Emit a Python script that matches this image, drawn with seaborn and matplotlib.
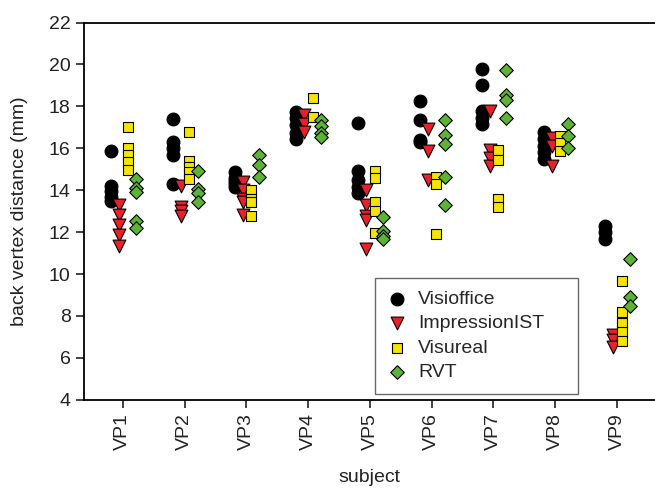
import numpy as np
import pandas as pd

import matplotlib
matplotlib.use("Agg")
import matplotlib.pyplot as plt
import seaborn as sns

sns.set_style("ticks")
plt.rcParams["font.family"] = ["Liberation Sans", "DejaVu Sans"]

# --- data: one list per subject (VP1..VP9) for each method ---
subjects = ["VP1", "VP2", "VP3", "VP4", "VP5", "VP6", "VP7", "VP8", "VP9"]

visioffice = [
    [15.85, 14.2, 13.95, 13.7, 13.5],
    [17.4, 16.3, 16.0, 15.7, 14.3],
    [14.85, 14.6, 14.45, 14.3, 14.15],
    [17.75, 17.45, 17.1, 16.75, 16.45],
    [17.2, 14.9, 14.5, 14.15, 13.85],
    [18.25, 17.35, 16.4, 16.3],
    [19.8, 19.0, 17.8, 17.45, 17.15],
    [16.8, 16.45, 16.1, 15.8, 15.5],
    [12.3, 12.0, 11.65],
]
impression_ist = [
    [13.3, 12.8, 12.35, 11.85, 11.35],
    [14.2, 13.2, 13.0, 12.75],
    [14.4, 14.0, 13.6, 13.45, 12.8],
    [17.6, 17.15, 16.8],
    [14.0, 13.3, 12.75, 12.6, 11.2],
    [16.9, 15.85, 14.5],
    [17.8, 15.9, 15.55, 15.15],
    [16.5, 16.1, 15.15],
    [7.1, 6.85, 6.5],
]
visureal = [
    [17.0, 16.0, 15.7, 15.35, 14.95],
    [16.8, 15.4, 15.1, 14.85, 14.55],
    [14.0, 13.6, 13.45, 12.75],
    [18.4, 17.5],
    [14.9, 14.6, 13.45, 13.0, 11.95],
    [14.65, 14.3, 11.9],
    [15.9, 15.45, 13.6, 13.2],
    [16.6, 16.25, 15.85],
    [9.65, 8.2, 7.65, 7.25, 6.8],
]
rvt = [
    [14.55, 14.1, 13.9, 12.55, 12.2],
    [14.9, 14.05, 13.85, 13.45],
    [15.7, 15.2, 14.65],
    [17.35, 17.05, 16.75, 16.55],
    [12.7, 12.05, 11.8, 11.65],
    [17.35, 16.65, 16.2, 14.65, 13.3],
    [19.75, 18.55, 18.3, 17.45],
    [17.15, 16.6, 16.0],
    [10.7, 8.9, 8.5],
]

methods = ["Visioffice", "ImpressionIST", "Visureal", "RVT"]
series = [visioffice, impression_ist, visureal, rvt]

# styling per method
offsets = [-0.19, -0.06, 0.075, 0.21]
markers = ["o", "v", "s", "D"]
sizes = [85, 85, 58, 48]
colors = ["black", "#e8202a", "#f5e400", "#5cb335"]

rows = []
for m, vals in zip(methods, series):
    for i, s in enumerate(subjects):
        for v in vals[i]:
            rows.append({"method": m, "subject": s, "idx": i + 1, "value": v})
df = pd.DataFrame(rows)

fig = plt.figure(figsize=(6.55, 4.9), dpi=100)
ax = fig.add_axes([0.128, 0.184, 0.872, 0.770])

for m, off, mk, sz, c in zip(methods, offsets, markers, sizes, colors):
    sub = df[df["method"] == m]
    sns.scatterplot(
        x=sub["idx"] + off, y=sub["value"], ax=ax,
        marker=mk, s=sz, color=c, edgecolor="black", linewidth=0.8,
        label=m, zorder=3,
    )

ax.set_xlim(0.368, 9.615)
ax.set_ylim(4, 22)
ax.set_yticks(np.arange(4, 23, 2))
ax.set_xticks(np.arange(1, 10))
ax.set_xticklabels(subjects, rotation=90)
ax.tick_params(axis="both", direction="out", length=6, width=1.2, labelsize=14,
               colors="#222222")
ax.set_xlabel("subject", fontsize=14, color="#222222")
ax.set_ylabel("back vertex distance (mm)", fontsize=14, color="#222222")
ax.yaxis.set_label_coords(-0.112, 0.5)
ax.xaxis.set_label_coords(0.5, -0.207)
ax.xaxis.label.set_va("center")
ax.yaxis.label.set_va("center")

for side in ["left", "bottom", "top"]:
    ax.spines[side].set_linewidth(1.3)
    ax.spines[side].set_color("black")
ax.spines["right"].set_visible(False)

leg = ax.legend(
    loc="upper left", bbox_to_anchor=(0.51, 0.021, 0.355, 0.302), mode="expand",
    borderaxespad=0, frameon=True, fancybox=False, edgecolor="#444444",
    fontsize=14, labelspacing=0.36, handlelength=1.0, handletextpad=0.6,
    borderpad=0.62,
)
leg.get_frame().set_linewidth(1.0)
leg.set_zorder(10)

fig.savefig("out.png", dpi=100, facecolor="white")
